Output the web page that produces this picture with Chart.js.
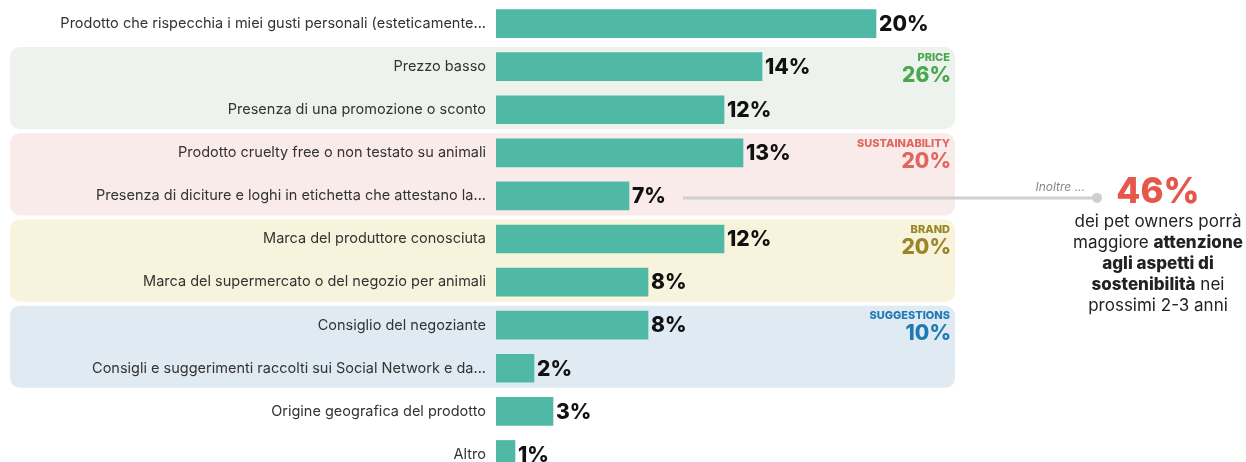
<!DOCTYPE html>
<html>
<head>
<meta charset="utf-8">
<script src="https://cdn.jsdelivr.net/npm/chart.js@4.4.1/dist/chart.umd.min.js"></script>
<style>
  html, body { margin: 0; padding: 0; background: #fff; overflow: hidden; }
  #wrap { position: relative; width: 1246px; height: 476px; }
</style>
</head>
<body>
<div id="wrap"><canvas id="chart"></canvas></div>
<script>
const categories = [
  "Prodotto che rispecchia i miei gusti personali (esteticamente...",
  "Prezzo basso",
  "Presenza di una promozione o sconto",
  "Prodotto cruelty free o non testato su animali",
  "Presenza di diciture e loghi in etichetta che attestano la...",
  "Marca del produttore conosciuta",
  "Marca del supermercato o del negozio per animali",
  "Consiglio del negoziante",
  "Consigli e suggerimenti raccolti sui Social Network e da...",
  "Origine geografica del prodotto",
  "Altro"
];
const values = [20, 14, 12, 13, 7, 12, 8, 8, 2, 3, 1];

// grouped bands: first/last category index of each group
const groupNames = ["PRICE", "SUSTAINABILITY", "BRAND", "SUGGESTIONS"];
const groupTotals = ["26%", "20%", "20%", "10%"];
const groupFirst = [1, 3, 5, 7];
const groupLast = [2, 4, 6, 8];
const groupBg = ["#eef2ec", "#f9ebea", "#f8f3dc", "#dfeaf2"];
const groupFg = ["#47a84e", "#e0675d", "#9a8628", "#1f7ab4"];

const calloutValue = "46%";
const calloutLines = [
  [["dei pet owners porrà", false]],
  [["maggiore ", false], ["attenzione", true]],
  [["agli aspetti di", true]],
  [["sostenibilità", true], [" nei", false]],
  [["prossimi 2-3 anni", false]]
];

const FONT = "Inter, 'Noto Sans', sans-serif";

function roundRect(ctx, x, y, w, h, r) {
  ctx.beginPath();
  ctx.moveTo(x + r, y);
  ctx.arcTo(x + w, y, x + w, y + h, r);
  ctx.arcTo(x + w, y + h, x, y + h, r);
  ctx.arcTo(x, y + h, x, y, r);
  ctx.arcTo(x, y, x + w, y, r);
  ctx.closePath();
}

const bandsPlugin = {
  id: "bands",
  beforeDraw(chart) {
    const ctx = chart.ctx;
    const y = chart.scales.y;
    const row = y.getPixelForValue(1) - y.getPixelForValue(0);
    ctx.save();
    groupNames.forEach((name, i) => {
      const top = y.getPixelForValue(groupFirst[i]) - row / 2 + 2;
      const bottom = y.getPixelForValue(groupLast[i]) + row / 2 - 2;
      ctx.fillStyle = groupBg[i];
      roundRect(ctx, 10, top, 945, bottom - top, 10);
      ctx.fill();
    });
    ctx.restore();
  },
  afterDatasetsDraw(chart) {
    const ctx = chart.ctx;
    const y = chart.scales.y;
    const meta = chart.getDatasetMeta(0);
    ctx.save();
    // value labels
    ctx.fillStyle = "#111";
    ctx.font = "800 21px " + FONT;
    ctx.textAlign = "left";
    ctx.textBaseline = "middle";
    meta.data.forEach((bar, i) => {
      ctx.fillText(values[i] + "%", bar.x + 3, bar.y + 1);
    });
    // group labels
    ctx.textAlign = "right";
    groupNames.forEach((name, i) => {
      const yc = y.getPixelForValue(groupFirst[i]);
      ctx.fillStyle = groupFg[i];
      ctx.font = "800 11px " + FONT;
      ctx.fillText(name, 950, yc - 9);
      ctx.font = "800 21px " + FONT;
      ctx.fillText(groupTotals[i], 951, yc + 9);
    });
    // callout line from sustainability bar
    const src = meta.data[4];
    const ly = src.y + 2;
    ctx.strokeStyle = "#cfcfcf";
    ctx.lineWidth = 3;
    ctx.beginPath();
    ctx.moveTo(683, ly);
    ctx.lineTo(1097, ly);
    ctx.stroke();
    ctx.fillStyle = "#cfcfcf";
    ctx.beginPath();
    ctx.arc(1097, ly, 5, 0, Math.PI * 2);
    ctx.fill();
    ctx.fillStyle = "#888";
    ctx.font = "italic 12px " + FONT;
    ctx.textAlign = "right";
    ctx.fillText("Inoltre ...", 1085, ly - 11);
    ctx.fillStyle = "#e5564b";
    ctx.font = "800 35px " + FONT;
    ctx.textAlign = "center";
    ctx.fillText(calloutValue, 1158, ly - 5);
    // callout text lines
    const cx = 1158;
    calloutLines.forEach((parts, li) => {
      const ty = ly + 24 + li * 21;
      let widths = parts.map(([t, b]) => {
        ctx.font = (b ? "800 " : "") + "17px " + FONT;
        return ctx.measureText(t).width;
      });
      const total = widths.reduce((a, b) => a + b, 0);
      let x = cx - total / 2;
      ctx.textAlign = "left";
      ctx.fillStyle = "#222";
      parts.forEach(([t, b], k) => {
        ctx.font = (b ? "800 " : "") + "17px " + FONT;
        ctx.fillText(t, x, ty);
        x += widths[k];
      });
    });
    ctx.restore();
  }
};

new Chart(document.getElementById("chart"), {
  type: "bar",
  data: {
    labels: categories,
    datasets: [{
      data: values,
      backgroundColor: "#4fb9a6",
      borderWidth: 0,
      barThickness: 28
    }]
  },
  options: {
    indexAxis: "y",
    responsive: true,
    maintainAspectRatio: false,
    animation: false,
    layout: { padding: { top: 2, right: 9, bottom: 0, left: 0 } },
    plugins: {
      legend: { display: false },
      tooltip: { enabled: false }
    },
    scales: {
      x: {
        display: false,
        min: 0,
        max: 39
      },
      y: {
        grid: { display: false, drawTicks: false },
        border: { display: false },
        ticks: {
          color: "#333",
          padding: 10,
          font: { family: FONT, size: 14.5 }
        },
        afterFit(scale) {
          scale.width = 496;
          scale.paddingTop = 0;
          scale.paddingBottom = 0;
        }
      }
    }
  },
  plugins: [bandsPlugin]
});
</script>
</body>
</html>
